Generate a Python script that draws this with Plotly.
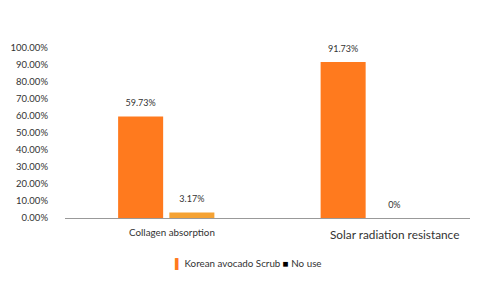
import plotly.graph_objects as go

categories = ["Collagen absorption", "Solar radiation resistance"]
scrub_values = [0.5973, 0.9173]
nouse_values = [0.0317, 0.0]
scrub_labels = ["59.73%", "91.73%"]
nouse_labels = ["3.17%", "0%"]
yticks = [i / 10 for i in range(11)]
series_names = ["Korean avocado Scrub", "No use"]
cat_label_sizes = [9.8, 11.8]
cat_label_shifts = [6, 26]
cat_label_ystand = [-14, -16]


def lab(t):
    return '<span style="font-size:9px">' + t + '</span><br> '


fig = go.Figure()
fig.add_trace(go.Bar(
    x=categories, y=scrub_values, name=series_names[0],
    marker=dict(color="#FF7A1E", line=dict(width=0)),
    text=[lab(t) for t in scrub_labels], textposition="outside",
    textfont=dict(size=5, color="#333333"), constraintext="none",
    cliponaxis=False, showlegend=False, offsetgroup="a",
))
fig.add_trace(go.Bar(
    x=categories, y=nouse_values, name=series_names[1],
    marker=dict(color=["#F5A233", "#000000"], line=dict(width=0)),
    text=[lab(t) for t in nouse_labels], textposition="outside",
    textfont=dict(size=5, color="#333333"), constraintext="none",
    cliponaxis=False, showlegend=False, offsetgroup="b",
))

for cat, sz, sh, ys in zip(categories, cat_label_sizes, cat_label_shifts, cat_label_ystand):
    fig.add_annotation(text=cat, x=cat, y=0, xref="x", yref="y",
                       xshift=sh, yshift=ys, showarrow=False,
                       xanchor="center", yanchor="middle",
                       font=dict(size=sz, color="#333333"))

legend_text = ('<span style="color:#FF7A1E">▌</span> ' + series_names[0] +
               ' <span style="color:#000000">■</span> ' + series_names[1])
fig.add_annotation(text=legend_text, xref="paper", yref="paper",
                   x=0.452, y=-0.265, xanchor="center", yanchor="middle",
                   showarrow=False, font=dict(size=9.8, color="#333333"))

fig.update_layout(
    width=480, height=281,
    margin=dict(l=65, r=10, t=48, b=63, autoexpand=False),
    paper_bgcolor="white", plot_bgcolor="white",
    barmode="group", bargap=0.494, bargroupgap=0.121,
    font=dict(family="Lato", size=9, color="#333333"),
    showlegend=False,
    yaxis=dict(range=[0, 1.0], tickvals=yticks, tickformat=".2%",
               showgrid=False, zeroline=False, showline=False,
               ticks="", ticklabelstandoff=16, automargin=False,
               tickfont=dict(size=9.5, color="#333333")),
    xaxis=dict(showticklabels=False, showline=True,
               linecolor="#999999", linewidth=1, ticks="", automargin=False),
)
fig.write_html("out.html")
